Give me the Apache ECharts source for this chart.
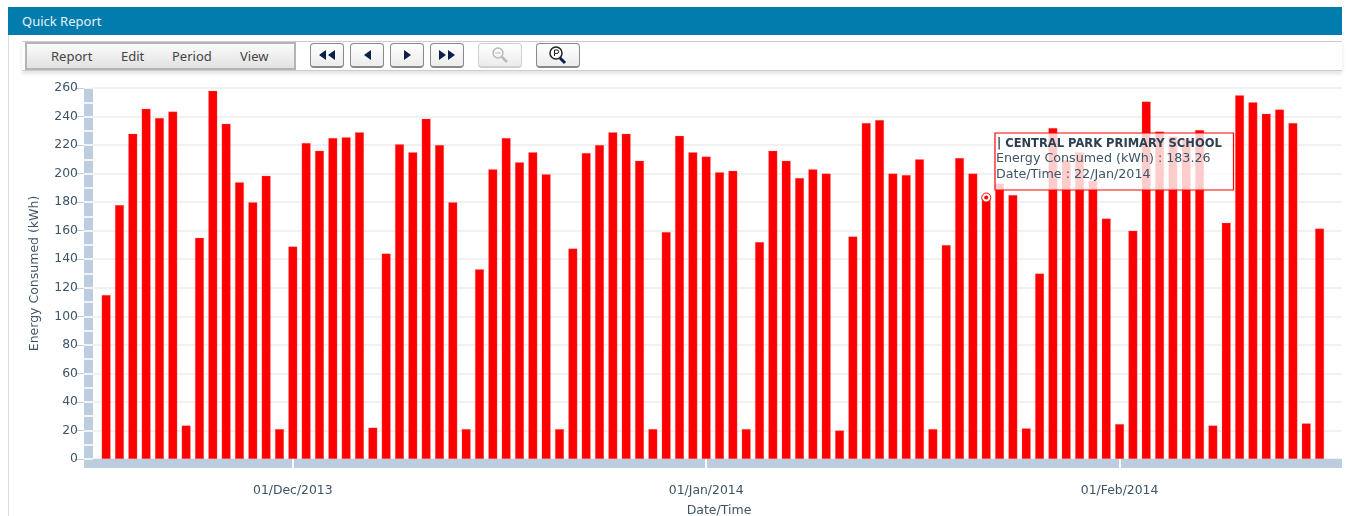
<!DOCTYPE html>
<html>
<head>
<meta charset="utf-8">
<title>Quick Report</title>
<script src="https://cdn.jsdelivr.net/npm/echarts@6/dist/echarts.min.js"></script>
<style>
html, body { margin: 0; padding: 0; background: #fff; overflow: hidden; }
body { width: 1346px; height: 516px; position: relative; font-family: "Noto Sans", sans-serif; }
#chart { position: absolute; left: 0; top: 0; width: 1346px; height: 516px; }
.frame { position: absolute; left: 8px; top: 35px; width: 1px; height: 481px; background: #dcdcdc; }
.title { position: absolute; left: 8px; top: 7px; width: 1320px; height: 28px; padding-left: 14px; line-height: 28px;
  background: #017cad; color: #e6f2f7; font-size: 13px; }
.strip { position: absolute; left: 22px; top: 41px; width: 1320px; height: 28px; border-top: 1px solid #ccc;
  border-bottom: 1px solid #ccc; box-shadow: 0 3px 4px #e4e4e4; background: #fff; }
.menu { position: absolute; left: 25px; top: 42px; width: 267px; height: 24px; border: 2px solid #b4b4b4;
  background: linear-gradient(#fbfbfb, #e2e2e2); color: #444; font-size: 13px; line-height: 24px; }
.menu span { position: absolute; top: 0; }
.btn { position: absolute; top: 43px; height: 22px; box-sizing: content-box; border: 1px solid #8a8a8a; border-bottom-width: 2px;
  border-radius: 4px; background: linear-gradient(#fff, #ececec); }
.btn.off { border-color: #d0d0d0; }
.btn svg { position: absolute; left: 0; top: 0; width: 100%; height: 100%; }
</style>
</head>
<body>
<div class="frame"></div>
<div class="title">Quick Report</div>
<div class="strip"></div>
<div class="menu">
  <span style="left:24px">Report</span>
  <span style="left:94px">Edit</span>
  <span style="left:145px">Period</span>
  <span style="left:213px">View</span>
</div>
<div class="btn" style="left:310px;width:32px"><svg viewBox="0 0 32 22"><path d="M15 6v10l-7-5zM24 6v10l-7-5z" fill="#0b1f4b"/></svg></div>
<div class="btn" style="left:350px;width:32px"><svg viewBox="0 0 32 22"><path d="M20 6v10l-7-5z" fill="#0b1f4b"/></svg></div>
<div class="btn" style="left:390px;width:32px"><svg viewBox="0 0 32 22"><path d="M13 6v10l7-5z" fill="#0b1f4b"/></svg></div>
<div class="btn" style="left:430px;width:32px"><svg viewBox="0 0 32 22"><path d="M8 6v10l7-5zM17 6v10l7-5z" fill="#0b1f4b"/></svg></div>
<div class="btn off" style="left:478px;width:42px"><svg viewBox="0 0 42 22"><circle cx="19" cy="9" r="5" fill="none" stroke="#b8b8b8" stroke-width="1.5"/><path d="M16.5 9h5" stroke="#b8b8b8"/><path d="M23 13l5 5" stroke="#b8b8b8" stroke-width="2.5"/></svg></div>
<div class="btn" style="left:536px;width:42px"><svg viewBox="0 0 42 22"><circle cx="19" cy="9" r="6" fill="#fff" stroke="#222" stroke-width="1.5"/><path d="M17.5 12V6h2.5a1.6 1.6 0 0 1 0 3.4h-2.5" fill="none" stroke="#222"/><path d="M23 14l5 5" stroke="#0b1f4b" stroke-width="3"/></svg></div>
<div id="chart"></div>
<script>
const firstDay = [2013, 10, 17]
const energy = [
  115, 178, 228, 245.5, 239, 243.5, 23.5, 155, 258, 235, 194, 180, 198.5, 21,
  149, 221.5, 216, 225, 225.5, 229, 22, 144, 220.5, 215, 238.5, 220, 180, 21,
  133, 203, 225, 208, 215, 199.5, 21, 147.5, 214.5, 220, 229, 228, 209, 21,
  159, 226.5, 215, 212, 201, 202, 21, 152, 216, 209, 197, 203, 200, 20,
  156, 235.5, 237.5, 200, 199, 210, 21, 150, 211, 200, 183.26, 193, 185, 21.5,
  130, 232, 209.5, 215, 195, 168.5, 24.5, 160, 250.5, 229.5, 226, 224, 230.5, 23.5,
  165.5, 255, 250, 242, 245, 235.5, 25, 161.5
]
const monthTicks = [Date.UTC(2013, 11, 1), Date.UTC(2014, 0, 1), Date.UTC(2014, 1, 1)]
const monthLabels = ['01/Dec/2013', '01/Jan/2014', '01/Feb/2014']
const hoverIndex = 66
const tipLines = ['| CENTRAL PARK PRIMARY SCHOOL', 'Energy Consumed (kWh) : 183.26', 'Date/Time : 22/Jan/2014']

const DAY = 86400000
const start = Date.UTC(firstDay[0], firstDay[1], firstDay[2])
const barData = energy.map((v, i) => [start + i * DAY, v])
const xMin = start - 1.66 * DAY
const xMax = xMin + 94.34 * DAY
const textColor = '#3d5566'
const bandColor = '#bccddf'
const font = 'DejaVu Sans'

const chart = echarts.init(document.getElementById('chart'), null, { renderer: 'canvas' })
chart.setOption({
  animation: false,
  grid: { left: 84, right: 4, top: 88, bottom: 57, outerBoundsMode: 'none' },
  xAxis: [
    {
      type: 'value',
      min: xMin,
      max: xMax,
      offset: 4.5,
      axisLine: { show: true, onZero: false, lineStyle: { color: bandColor, width: 9, cap: 'butt' } },
      axisTick: { show: false },
      axisLabel: { show: false },
      splitLine: { show: false }
    },
    {
      // white month notches and the date labels
      type: 'value',
      position: 'bottom',
      min: xMin,
      max: xMax,
      axisLine: { show: false, onZero: false },
      axisTick: { show: true, customValues: monthTicks, length: 9, lineStyle: { color: '#fff', width: 2 } },
      axisLabel: {
        show: true,
        customValues: monthTicks,
        margin: 26,
        color: textColor,
        fontFamily: font,
        fontSize: 12.4,
        formatter: v => monthLabels[monthTicks.indexOf(v)] || ''
      },
      splitLine: { show: false },
      name: 'Date/Time',
      nameLocation: 'middle',
      nameGap: 45,
      nameTextStyle: { color: textColor, fontFamily: font, fontSize: 12.5, padding: [0, 0, 0, 12] }
    }
  ],
  yAxis: [
    {
      type: 'value',
      position: 'left',
      min: 0,
      max: 260,
      interval: 20,
      axisLine: { show: false },
      axisTick: { show: true, length: 9, lineStyle: { color: '#c0d0e0' } },
      axisLabel: { margin: 6, color: textColor, fontFamily: font, fontSize: 12.4 },
      splitLine: { show: true, lineStyle: { color: '#f1f1f1', width: 2 } },
      name: 'Energy Consumed (kWh)',
      nameLocation: 'middle',
      nameGap: 43,
      nameTextStyle: { color: textColor, fontFamily: font, fontSize: 12.5 }
    },
    {
      type: 'value',
      position: 'left',
      min: 0,
      max: 260,
      interval: 20,
      offset: -4.5,
      axisLine: { show: true, lineStyle: { color: bandColor, width: 9, cap: 'butt' } },
      axisTick: { show: false },
      axisLabel: { show: false },
      splitLine: { show: false }
    },
    {
      // white notches across the left band
      type: 'value',
      position: 'left',
      min: 0,
      max: 260,
      interval: 10,
      axisLine: { show: false },
      axisTick: { show: true, inside: true, length: 9, lineStyle: { color: '#fff', width: 1.5 } },
      axisLabel: { show: false },
      splitLine: { show: false }
    }
  ],
  series: [
    {
      type: 'bar',
      data: barData,
      barWidth: 9,
      itemStyle: { color: '#ff0000', borderColor: 'rgba(255,120,120,0.5)', borderWidth: 0.5 }
    },
    {
      type: 'scatter',
      data: [barData[hoverIndex]],
      symbol: 'circle',
      symbolSize: 9,
      z: 5,
      itemStyle: { color: '#fff', borderColor: '#ff0000', borderWidth: 1, opacity: 1 }
    },
    {
      type: 'scatter',
      data: [barData[hoverIndex]],
      symbol: 'circle',
      symbolSize: 4,
      z: 6,
      itemStyle: { color: '#ff0000', opacity: 1 }
    }
  ],
  graphic: [
    {
      type: 'rect',
      z: 100,
      shape: { x: 995, y: 133, width: 238.5, height: 57 },
      style: { fill: 'rgba(255,255,255,0.8)', stroke: '#ff0000', lineWidth: 1.2 }
    },
    { type: 'text', z: 101, x: 997, y: 138, style: { text: tipLines[0], fill: '#2b4052', font: 'bold 11.5px "DejaVu Sans"' } },
    { type: 'text', z: 101, x: 996, y: 152, style: { text: tipLines[1], fill: textColor, font: '12.7px "DejaVu Sans"' } },
    { type: 'text', z: 101, x: 996, y: 168, style: { text: tipLines[2], fill: textColor, font: '12.7px "DejaVu Sans"' } }
  ]
})
</script>
</body>
</html>
